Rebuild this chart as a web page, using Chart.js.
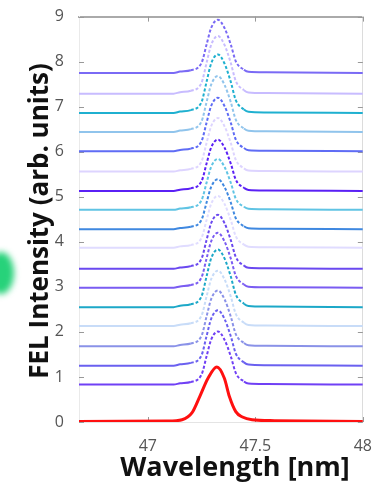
<!DOCTYPE html>
<html>
<head>
<meta charset="utf-8">
<script src="https://cdn.jsdelivr.net/npm/chart.js@4.4.1/dist/chart.umd.min.js"></script>
<style>
  html, body { margin: 0; padding: 0; background: #fff; overflow: hidden; }
  #wrap { position: relative; width: 379px; height: 489px; }
  #blob {
    position: absolute; left: -12px; top: 252px; width: 26px; height: 42px;
    border-radius: 50%; background: #27d27a; filter: blur(3px);
  }
</style>
</head>
<body>
<div id="wrap">
  <div id="blob"></div>
  <canvas id="chart" width="379" height="489"></canvas>
</div>
<script>
// wavelength grid (nm) for the stacked shots
const shotX = [46.68, 47.12, 47.15, 47.2, 47.25, 47.273, 47.295, 47.326, 47.356, 47.386, 47.409, 47.447, 47.468, 47.55, 48.0];
// normalised line shape of a single shot
const shotShape = [0, 0, 0.025, 0.05, 0.19, 0.53, 0.85, 1, 0.85, 0.53, 0.22, 0.06, 0.02, 0.01, 0];
// vertical offset of each shot, top to bottom
const shotOffsets = [7.75, 7.29, 6.86, 6.44, 6.01, 5.56, 5.13, 4.71, 4.28, 3.87, 3.40, 2.98, 2.55, 2.13, 1.68, 1.25, 0.83];
// peak height of each shot
const shotPeaks = [1.18, 1.28, 1.30, 1.24, 1.19, 1.19, 1.14, 1.13, 1.11, 1.15, 1.20, 1.22, 1.28, 1.23, 1.24, 1.23, 1.18];
const shotColors = [
  "#7a6af5", "#c8bcff", "#1fb0d0", "#90c4ec", "#5f6cf5", "#ddd4ff",
  "#5a20f5", "#60c4e4", "#3f88e0", "#e0dcff", "#6a48f0", "#7a5cf2",
  "#1ca8c8", "#c8dcf8", "#8a92e8", "#6a60f0", "#7040f5"
];

// averaged spectrum (red)
const avgX = [46.68, 47.09, 47.159, 47.205, 47.242, 47.28, 47.321, 47.356, 47.379, 47.409, 47.44, 47.485, 47.59, 48.0];
const avgY = [0.01, 0.02, 0.05, 0.2, 0.57, 0.97, 1.22, 0.97, 0.57, 0.23, 0.11, 0.05, 0.03, 0.01];

const xTicks = [47, 47.5, 48];
const yTicks = [0, 1, 2, 3, 4, 5, 6, 7, 8, 9];

const datasets = shotOffsets.map((off, i) => ({
  data: shotX.map((x, k) => ({ x: x, y: off + shotShape[k] * shotPeaks[i] })),
  borderColor: shotColors[i],
  borderWidth: 2,
  pointRadius: 0,
  cubicInterpolationMode: "monotone",
  segment: {
    borderDash: (c) => (c.p0.parsed.x >= 47.2 && c.p1.parsed.x <= 47.447 ? [3, 2] : undefined),
  },
}));

datasets.push({
  data: avgX.map((x, k) => ({ x: x, y: avgY[k] })),
  borderColor: "#ff1010",
  borderWidth: 3,
  pointRadius: 0,
  cubicInterpolationMode: "monotone",
});

// inward tick marks and axis titles
const framePlugin = {
  id: "frame",
  beforeDatasetsDraw(chart) {
    const { ctx, chartArea: a, scales } = chart;
    ctx.save();
    ctx.strokeStyle = "#999";
    ctx.lineWidth = 1;
    ctx.beginPath();
    yTicks.forEach((v) => {
      const y = Math.round(scales.y.getPixelForValue(v)) + 0.5;
      ctx.moveTo(a.left, y); ctx.lineTo(a.left + 5, y);
      ctx.moveTo(a.right, y); ctx.lineTo(a.right - 5, y);
    });
    xTicks.forEach((v) => {
      const x = Math.round(scales.x.getPixelForValue(v)) + 0.5;
      ctx.moveTo(x, a.top); ctx.lineTo(x, a.top + 5);
      ctx.moveTo(x, a.bottom); ctx.lineTo(x, a.bottom - 5);
    });
    ctx.stroke();
    ctx.restore();
  },
  afterDraw(chart) {
    const { ctx } = chart;
    ctx.save();
    ctx.fillStyle = "#111";
    ctx.textAlign = "center";
    ctx.textBaseline = "alphabetic";
    ctx.font = "bold 27px 'Open Sans'";
    ctx.fillText("Wavelength [nm]", 235, 476);
    ctx.translate(48, 221);
    ctx.rotate(-Math.PI / 2);
    ctx.font = "bold 26px 'Open Sans'";
    ctx.fillText("FEL Intensity (arb. units)", 0, 0);
    ctx.restore();
  },
};

new Chart(document.getElementById("chart"), {
  type: "line",
  data: { datasets: datasets },
  plugins: [framePlugin],
  options: {
    responsive: false,
    animation: false,
    events: [],
    layout: { padding: { top: 15, right: 10, left: 0, bottom: 0 } },
    plugins: { legend: { display: false }, tooltip: { enabled: false } },
    scales: {
      x: {
        type: "linear",
        min: 46.68,
        max: 48,
        afterBuildTicks: (s) => { s.ticks = xTicks.map((v) => ({ value: v })); },
        afterFit: (s) => { s.height = 67; },
        grid: { display: false },
        border: { display: true, color: "#e4e4e4", width: 1 },
        ticks: {
          padding: 7,
          color: "#555",
          font: { family: "'Open Sans'", size: 16 },
          callback: (v) => String(v),
        },
      },
      x2: {
        type: "linear",
        position: "top",
        min: 46.68,
        max: 48,
        afterFit: (s) => { s.height = 0; },
        grid: { display: false },
        border: { display: true, color: "#aaa", width: 2 },
        ticks: { display: false },
      },
      y: {
        min: 0,
        max: 9,
        afterBuildTicks: (s) => { s.ticks = yTicks.map((v) => ({ value: v })); },
        afterFit: (s) => { s.width = 79; },
        grid: { display: false },
        border: { display: true, color: "#eaeaea", width: 1 },
        ticks: {
          padding: 7,
          color: "#555",
          font: { family: "'Open Sans'", size: 16 },
        },
      },
      y2: {
        position: "right",
        min: 0,
        max: 9,
        afterFit: (s) => { s.width = 0; },
        grid: { display: false },
        border: { display: true, color: "#dcdcdc", width: 1 },
        ticks: { display: false },
      },
    },
  },
});
</script>
</body>
</html>
